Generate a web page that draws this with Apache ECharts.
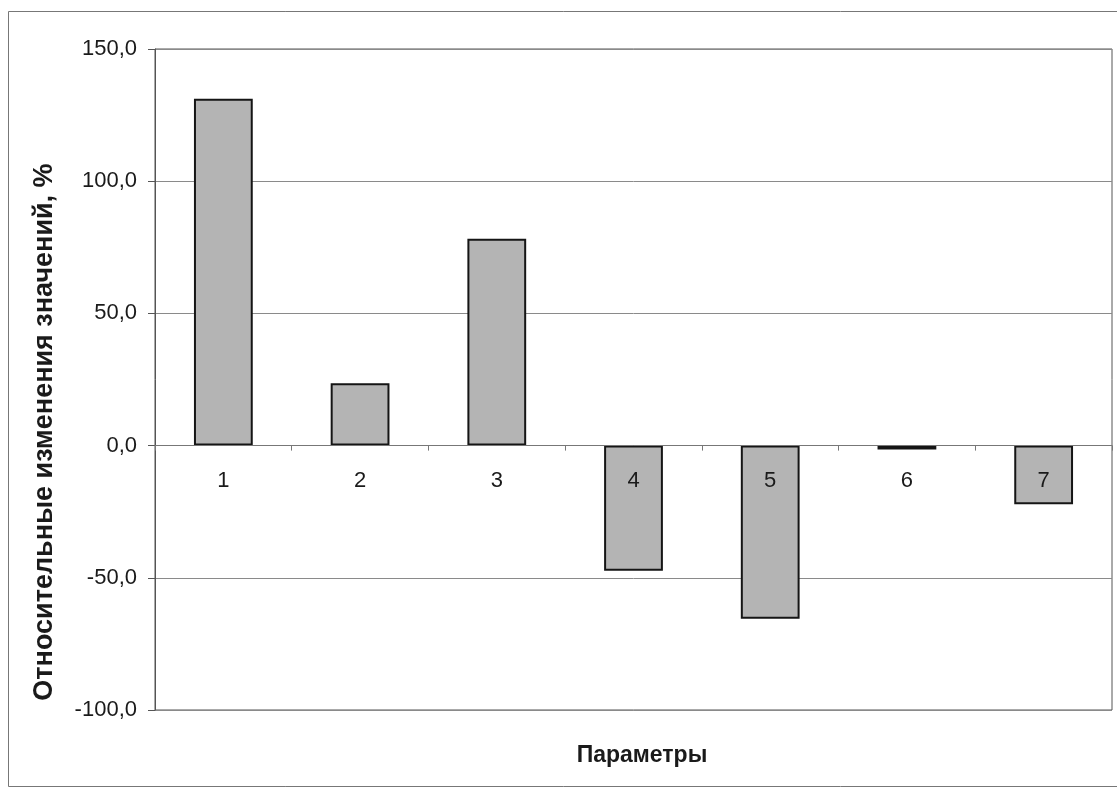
<!DOCTYPE html>
<html>
<head>
<meta charset="utf-8">
<title>Относительные изменения значений</title>
<script src="https://cdn.jsdelivr.net/npm/echarts@6/dist/echarts.min.js"></script>
<style>
  html, body { margin: 0; padding: 0; background: #ffffff; }
  #chart { width: 1117px; height: 789px; }
</style>
</head>
<body>
<div id="chart"></div>
<script>
// Parameter numbers along the horizontal axis
const categories = ['1', '2', '3', '4', '5', '6', '7'];
// Relative change of each parameter, %
const changes = [131.2, 23.6, 78.2, -47.3, -65.5, -1.5, -22.2];
// Value axis range and step
const yMin = -100;
const yMax = 150;
const yStep = 50;

const yTitle = 'Относительные изменения значений, %';
const xTitle = 'Параметры';

const FONT = 'Liberation Sans, Arial, sans-serif';

// Plot area geometry
const gridLeft = 155, gridRight = 5, gridTop = 49, gridBottom = 79;
const plotHeight = 789 - gridTop - gridBottom;
// Lift the category axis from the bottom edge up to the zero line
const zeroLift = plotHeight * (0 - yMin) / (yMax - yMin);

const chart = echarts.init(document.getElementById('chart'), null, { renderer: 'canvas' });

const fmt = v => v.toFixed(1).replace('.', ',');

chart.setOption({
  animation: false,
  backgroundColor: '#ffffff',
  textStyle: { fontFamily: FONT },
  title: {
    text: xTitle,
    left: 637,
    top: 739,
    textAlign: 'center',
    textStyle: { fontSize: 23, fontWeight: 'bold', color: '#1a1a1a', fontFamily: FONT }
  },
  graphic: [
    {
      type: 'rect',
      shape: { x: 8.5, y: 11.5, width: 1130, height: 775 },
      style: { fill: 'none', stroke: '#777777', lineWidth: 1 },
      silent: true,
      z: -1
    },
    {
      type: 'text',
      x: 45,
      y: 432,
      rotation: Math.PI / 2,
      style: {
        text: yTitle,
        fill: '#1a1a1a',
        font: 'bold 27px ' + FONT,
        textAlign: 'center',
        textVerticalAlign: 'middle'
      },
      silent: true
    }
  ],
  grid: {
    left: gridLeft,
    right: gridRight,
    top: gridTop,
    bottom: gridBottom,
    show: true,
    borderColor: '#555555',
    borderWidth: 1,
    backgroundColor: 'transparent'
  },
  xAxis: {
    type: 'category',
    data: categories,
    z: 5,
    offset: -zeroLift,
    axisLine: { onZero: false, lineStyle: { color: '#777777', width: 1 } },
    axisTick: { show: true, alignWithLabel: false, length: 5, lineStyle: { color: '#777777' } },
    axisLabel: { margin: 24, fontSize: 22, color: '#1a1a1a' },
    splitLine: { show: false }
  },
  yAxis: {
    type: 'value',
    min: yMin,
    max: yMax,
    interval: yStep,
    axisLine: { show: true, lineStyle: { color: '#555555' } },
    axisTick: { show: true, length: 7, lineStyle: { color: '#555555' } },
    axisLabel: { formatter: fmt, fontSize: 22, color: '#1a1a1a', margin: 18 },
    splitLine: { show: true, lineStyle: { color: '#8a8a8a', width: 1 } }
  },
  series: [
    {
      type: 'bar',
      data: changes,
      barWidth: '43%',
      itemStyle: { color: '#b4b4b4', borderColor: '#151515', borderWidth: 2 },
      z: 2
    }
  ]
});
</script>
</body>
</html>
